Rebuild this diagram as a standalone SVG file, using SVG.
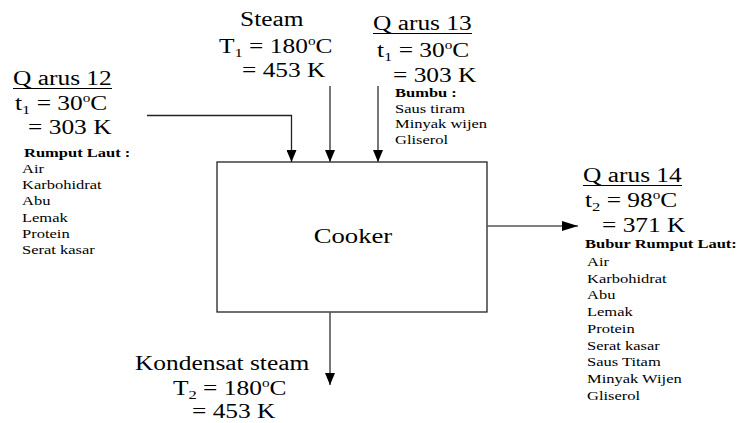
<svg xmlns="http://www.w3.org/2000/svg" width="745" height="423" viewBox="0 0 745 423" font-family="'Liberation Serif', 'DejaVu Serif', serif">
<style>
text{font-family:'Liberation Serif','DejaVu Serif',serif;fill:#000}
.big{font-size:20px}
.sm{font-size:13px}
.b{font-size:13px;font-weight:bold}
.ul{stroke:#000;stroke-width:1.2}
.con{fill:none;stroke:#222;stroke-width:1.3}
.gr{stroke:#555;stroke-width:1.6}
</style>
<defs>
<marker id="ah" viewBox="0 0 12 10" refX="12" refY="5" markerWidth="12" markerHeight="10" markerUnits="userSpaceOnUse" orient="auto">
<path d="M0,0 L12,5 L0,10 Z" fill="#000"/>
</marker>
<marker id="ah2" viewBox="0 0 16 10" refX="16" refY="5" markerWidth="16" markerHeight="10" markerUnits="userSpaceOnUse" orient="auto">
<path d="M0,0 L16,5 L0,10 Z" fill="#000"/>
</marker>
</defs>
<g id="cooker">
<rect x="217" y="162" width="270" height="150" fill="#fff" stroke="#222" stroke-width="1.3"/>
<g transform="scale(1.27 1)"><text class="big" x="277.95" y="243" text-anchor="middle" style="font-size:21px">Cooker</text></g>
</g>
<g id="arus12">
<g transform="scale(1.27 1)">
<text class="big" x="10.24" y="85">Q arus 12</text>
<line class="ul" x1="10.24" y1="88.5" x2="88.2" y2="88.5"/>
<text class="big" x="11.81" y="110">t<tspan style="font-size:13px" dy="4">1</tspan><tspan dy="-4"> = 30</tspan><tspan style="font-size:12px" dy="-8">o</tspan><tspan dy="8">C</tspan></text>
<text class="big" x="22.05" y="134">= 303 K</text>
<text class="b" x="18.9" y="157">Rumput Laut :</text>
<text class="sm" x="17.32" y="173">Air</text>
<text class="sm" x="17.32" y="189.2">Karbohidrat</text>
<text class="sm" x="17.32" y="205.4">Abu</text>
<text class="sm" x="17.32" y="221.6">Lemak</text>
<text class="sm" x="17.32" y="237.8">Protein</text>
<text class="sm" x="17.32" y="254">Serat kasar</text>
</g>
</g>
<g id="steam">
<g transform="scale(1.27 1)">
<text class="big" x="188.98" y="26">Steam</text>
<text class="big" x="172.44" y="53">T<tspan style="font-size:13px" dy="4">1</tspan><tspan dy="-4"> = 180</tspan><tspan style="font-size:12px" dy="-8">o</tspan><tspan dy="8">C</tspan></text>
<text class="big" x="190.55" y="77">= 453 K</text>
</g>
</g>
<g id="arus13">
<g transform="scale(1.27 1)">
<text class="big" x="293.7" y="30">Q arus 13</text>
<line class="ul" x1="293.7" y1="33.5" x2="371.6" y2="33.5"/>
<text class="big" x="296.85" y="57">t<tspan style="font-size:13px" dy="4">1</tspan><tspan dy="-4"> = 30</tspan><tspan style="font-size:12px" dy="-8">o</tspan><tspan dy="8">C</tspan></text>
<text class="big" x="309.45" y="82">= 303 K</text>
<text class="b" x="311.02" y="97">Bumbu :</text>
<text class="sm" x="311.02" y="113">Saus tiram</text>
<text class="sm" x="311.02" y="128.3">Minyak wijen</text>
<text class="sm" x="311.02" y="143.6">Gliserol</text>
</g>
</g>
<g id="arus14">
<g transform="scale(1.27 1)">
<text class="big" x="459.06" y="182">Q arus 14</text>
<line class="ul" x1="459.06" y1="185.5" x2="537" y2="185.5"/>
<text class="big" x="460.63" y="207">t<tspan style="font-size:13px" dy="4">2</tspan><tspan dy="-4"> = 98</tspan><tspan style="font-size:12px" dy="-8">o</tspan><tspan dy="8">C</tspan></text>
<text class="big" x="474.02" y="232">= 371 K</text>
<text class="b" x="460.63" y="248">Bubur Rumput Laut:</text>
<text class="sm" x="462.2" y="266">Air</text>
<text class="sm" x="462.2" y="282.75">Karbohidrat</text>
<text class="sm" x="462.2" y="299.5">Abu</text>
<text class="sm" x="462.2" y="316.25">Lemak</text>
<text class="sm" x="462.2" y="333">Protein</text>
<text class="sm" x="462.2" y="349.75">Serat kasar</text>
<text class="sm" x="462.2" y="366.5">Saus Titam</text>
<text class="sm" x="462.2" y="383.25">Minyak Wijen</text>
<text class="sm" x="462.2" y="400">Gliserol</text>
</g>
</g>
<g id="kondensat">
<g transform="scale(1.27 1)">
<text class="big" x="106.3" y="370">Kondensat steam</text>
<text class="big" x="136.22" y="395">T<tspan style="font-size:13px" dy="4">2</tspan><tspan dy="-4"> = 180</tspan><tspan style="font-size:12px" dy="-8">o</tspan><tspan dy="8">C</tspan></text>
<text class="big" x="151.18" y="418">= 453 K</text>
</g>
</g>
<g id="connectors">
<path class="con" d="M147,115.5 H291.5 V162" marker-end="url(#ah)"/>
<path class="con gr" d="M330,86 V162" marker-end="url(#ah)"/>
<path class="con gr" d="M378,86 V162" marker-end="url(#ah)"/>
<path class="con gr" d="M487,226 H578" marker-end="url(#ah2)"/>
<path class="con gr" d="M330,312 V385" marker-end="url(#ah)"/>
</g>
</svg>
